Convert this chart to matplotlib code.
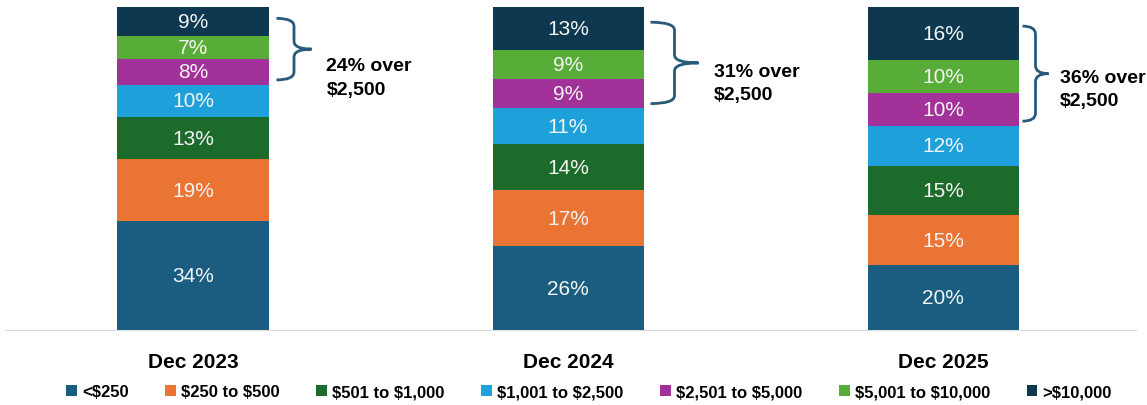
import numpy as np
import matplotlib
matplotlib.use('Agg')
import matplotlib.pyplot as plt
from matplotlib.path import Path
from matplotlib.patches import PathPatch, Patch

plt.rcParams['text.parse_math'] = False
plt.rcParams['font.family'] = 'Liberation Sans'

# data (labelled percentages, bottom to top)
periods = ['Dec 2023', 'Dec 2024', 'Dec 2025']
buckets = ['<$250', '$250 to $500', '$501 to $1,000', '$1,001 to $2,500',
           '$2,501 to $5,000', '$5,001 to $10,000', '>$10,000']
pct_2023 = [34, 19, 13, 10, 8, 7, 9]
pct_2024 = [26, 17, 14, 11, 9, 9, 13]
pct_2025 = [20, 15, 15, 12, 10, 10, 16]
colors = ['#1b5d80', '#e97434', '#1d6b2b', '#1ea1da',
          '#a3319a', '#57ad38', '#0e3850']
brace_color = '#275a7a'

W, H = 1147, 406
fig = plt.figure(figsize=(W / 100, H / 100), dpi=100)
base_px, top_px = 332, 8
ax = fig.add_axes([5 / W, (H - base_px) / H, (1137 - 5) / W, base_px / H])
ymax = 100 * base_px / (base_px - top_px)
xpx = 375.0  # pixels per category unit
ax.set_xlim(-(193 - 5) / xpx, 2 + (1137 - 943) / xpx)
ax.set_ylim(0, ymax)
ypx = (base_px - top_px) / 100.0  # pixels per percent

data = np.array([pct_2023, pct_2024, pct_2025], dtype=float)
heights = data / data.sum(axis=1, keepdims=True) * 100
x = np.arange(len(periods))
bw = 151 / xpx

bottom = np.zeros(len(periods))
for i, b in enumerate(buckets):
    ax.bar(x, heights[:, i], bw, bottom=bottom, color=colors[i], label=b, linewidth=0)
    for j in range(len(periods)):
        ax.text(x[j], bottom[j] + heights[j, i] / 2, '%d%%' % data[j, i],
                ha='center', va='center', color='#f4f4f4', fontsize=15)
    bottom += heights[:, i]


def draw_brace(ax, x0, y_top, y_bot, w_px):
    w = w_px / xpx
    r = 8 / ypx  # corner radius in data units
    xm = x0 + w * 0.5
    ymid = (y_top + y_bot) / 2
    codes = [Path.MOVETO, Path.CURVE3, Path.CURVE3, Path.LINETO,
             Path.CURVE3, Path.CURVE3, Path.CURVE3, Path.CURVE3,
             Path.LINETO, Path.CURVE3, Path.CURVE3]
    verts = [(x0, y_top), (xm, y_top), (xm, y_top - r),
             (xm, ymid + r), (xm, ymid), (x0 + w, ymid),
             (xm, ymid), (xm, ymid - r),
             (xm, y_bot + r), (xm, y_bot), (x0, y_bot)]
    ax.add_patch(PathPatch(Path(verts, codes), fill=False, edgecolor=brace_color,
                           linewidth=2, capstyle='butt', clip_on=False))
    return x0 + w, ymid


brace_w = [35, 48, 26]
brace_gap = [8, 7, 4]
text_gap = [15, 15, 11]
text_dy = [-8, 0, 5]  # px, text top relative to brace tip
for j in range(len(periods)):
    over = int(data[j, 4:].sum())
    top3 = heights[j, 4:].sum()
    y_top = 100 - 3.5 - j * 1.2
    y_bot = 100 - top3 + 1.5
    tip_x, ymid = draw_brace(ax, x[j] + bw / 2 + brace_gap[j] / xpx, y_top, y_bot, brace_w[j])
    ax.text(tip_x + text_gap[j] / xpx, ymid + text_dy[j] / ypx, '%d%% over\n$2,500' % over,
            ha='left', va='top', fontsize=14, fontweight='bold', linespacing=1.5)

ax.axhline(0, color='#d9d9d9', linewidth=1.5)
for s in ax.spines.values():
    s.set_visible(False)
ax.set_yticks([])
ax.set_xticks(x)
ax.set_xticklabels(periods, fontsize=15, fontweight='bold')
ax.tick_params(axis='x', length=0, pad=15)

handles = [Patch(facecolor=c, edgecolor='none') for c in colors]
fig.legend(handles, buckets, loc='center', bbox_to_anchor=(589 / W, 1 - 393 / H),
           ncol=7, frameon=False, handlelength=0.65, handleheight=0.65,
           handletextpad=0.3, columnspacing=2.2,
           prop={'weight': 'bold', 'size': 12})

fig.savefig('out.png', dpi=100)
